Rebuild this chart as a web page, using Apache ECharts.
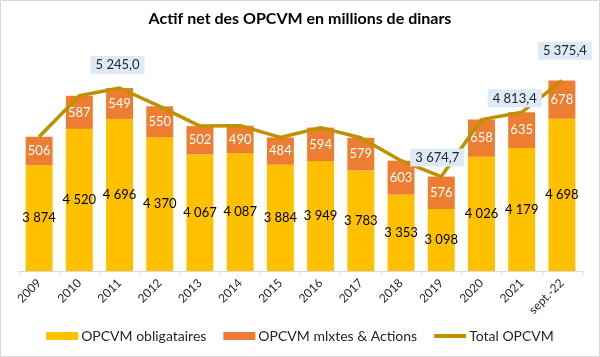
<!DOCTYPE html>
<html><head><meta charset="utf-8">
<script src="https://cdn.jsdelivr.net/npm/echarts@6/dist/echarts.min.js"></script>
<style>html,body{margin:0;padding:0;background:#fff}#c{width:600px;height:357px}</style>
</head><body><div id="c"></div>
<script>
const categories = ['2009','2010','2011','2012','2013','2014','2015','2016','2017','2018','2019','2020','2021','sept.-22'];
const obligataires = [3874,4520,4696,4370,4067,4087,3884,3949,3783,3353,3098,4026,4179,4698];
const mixtesActions = [506,587,549,550,502,490,484,594,579,603,576,658,635,678];
const totalOPCVM = [4380,5107,5245.0,4920,4569,4577,4368,4543,4362,3956,3674.7,4684,4813.4,5375.4];
const seriesNames = ['OPCVM obligataires','OPCVM mlxtes & Actions','Total OPCVM'];

const FONT = 'Lato';
const fmtInt = v => String(Math.round(v)).replace(/\B(?=(\d{3})+(?!\d))/g, ' ');
const fmtDec = v => { const p = v.toFixed(1).split('.'); return p[0].replace(/\B(?=(\d{3})+(?!\d))/g, ' ') + ',' + p[1]; };

// label placement for the annotated total points (index -> offset)
const totalLabelOffsets = {2: [-2, -23], 10: [-4, -19], 12: [-7, -14], 13: [3, -30]};
const totalData = totalOPCVM.map((v, i) => {
  const off = totalLabelOffsets[i];
  if (!off) return v;
  return {value: v, label: {show: true, position: 'inside', offset: off}};
});

const chart = echarts.init(document.getElementById('c'), null, {renderer: 'canvas'});
chart.setOption({
  animation: false,
  backgroundColor: '#fff',
  title: {
    text: 'Actif net des OPCVM en millions de dinars',
    left: 'center', top: 6,
    textStyle: {fontFamily: FONT, fontWeight: 'bold', fontSize: 16, color: '#000'}
  },
  graphic: [{type: 'rect', shape: {x: 0.5, y: 0.5, width: 599, height: 356}, style: {fill: 'none', stroke: '#D9D9D9', lineWidth: 1}, silent: true}],
  legend: {
    bottom: 9, left: 'center',
    itemWidth: 32, itemHeight: 8, itemGap: 17,
    textStyle: {fontFamily: FONT, fontSize: 14, color: '#262626', padding: [0, 0, 0, -2]},
    data: [
      {name: seriesNames[0], icon: 'rect'},
      {name: seriesNames[1], icon: 'rect'},
      {name: seriesNames[2], icon: 'path://M0,0H32V4H0Z'}
    ]
  },
  grid: {left: 19, right: 18, top: 45.4, bottom: 86},
  xAxis: {
    type: 'category', data: categories,
    axisLine: {lineStyle: {color: '#D9D9D9'}},
    axisTick: {show: true, length: 4, lineStyle: {color: '#D9D9D9'}},
    axisLabel: {rotate: 45, margin: 10, fontFamily: FONT, fontSize: 12, color: '#262626', interval: 0}
  },
  yAxis: {type: 'value', min: 2000, max: 6000, show: false, splitLine: {show: false}},
  series: [
    {
      name: seriesNames[0], type: 'bar', stack: 'a', data: obligataires, clip: true,
      barCategoryGap: '33%',
      itemStyle: {color: '#FFC000'},
      label: {show: true, position: 'inside', formatter: p => fmtInt(p.value), fontFamily: FONT, fontSize: 13, color: '#000'}
    },
    {
      name: seriesNames[1], type: 'bar', stack: 'a', data: mixtesActions, clip: true,
      itemStyle: {color: '#ED7D31'},
      label: {show: true, position: 'inside', formatter: p => fmtInt(p.value), fontFamily: FONT, fontSize: 13, color: '#fff'}
    },
    {
      name: seriesNames[2], type: 'line', data: totalData,
      symbol: 'circle', symbolSize: 0, showSymbol: true,
      itemStyle: {color: '#BF9000'},
      lineStyle: {color: '#BF9000', width: 3.5},
      label: {
        show: false, formatter: p => fmtDec(p.value),
        fontFamily: FONT, fontSize: 13, color: '#262626',
        backgroundColor: '#DEEBF7', padding: [3, 5, 2, 5]
      },
      z: 5
    }
  ]
});
</script></body></html>
